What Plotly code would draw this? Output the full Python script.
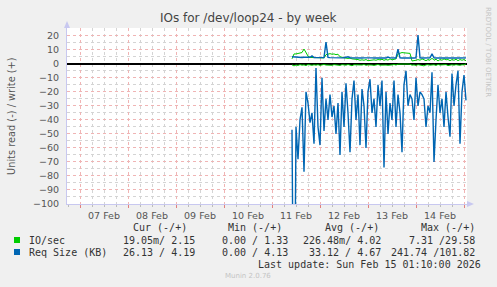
import pandas as pd
import plotly.graph_objects as go

# ---------------- data ----------------
start_time = "2026-02-11 10:00"
n_points = 88

io_write = [3.5, 7.0, 7.0, 7.2, 7.5, 8.0, 10.5, 8.0, 5.5, 4.5, 4.5, 4.0, 4.2, 4.0, 4.5, 4.0,
            4.2, 6.5, 7.0, 7.2, 6.8, 7.0, 6.5, 6.8, 5.0, 4.5, 4.2, 4.0, 3.8, 4.0, 3.5, 3.5,
            3.2, 3.0, 2.5, 2.8, 2.5, 3.0, 2.2, 2.5, 3.0, 2.8, 2.5, 3.0, 2.8, 3.2, 2.5, 3.0,
            2.6, 3.5, 2.8, 3.0, 3.5, 7.0, 7.8, 8.0, 7.8, 7.5, 7.6, 7.4, 2.0, 2.0, 2.5, 3.0,
            2.5, 3.5, 2.8, 2.2, 3.0, 2.5, 4.0, 2.5, 3.2, 2.0, 3.0, 2.5, 3.5, 2.8, 3.0, 2.2,
            3.0, 2.5, 3.2, 2.2, 3.0, 2.5, 3.0, 2.15]

io_read = [0.8, 1.5, 0.9, 1.2, 0.6, 1.0, 0.8, 1.3, 0.5, 0.9, 1.1, 0.7, 1.0, 0.6, 1.2, 0.8,
           0.5, 0.9, 1.0, 0.7, 1.1, 0.6, 0.9, 0.8, 1.2, 0.6, 0.8, 1.0, 0.5, 0.9, 1.4, 0.7,
           0.8, 0.6, 1.0, 0.9, 0.5, 1.1, 0.8, 0.6, 0.9, 1.2, 0.7, 0.5, 1.0, 0.8, 0.6, 0.9,
           1.1, 0.7, 0.8, 0.5, 0.9, 0.3, 0.2, 0.3, 0.2, 0.3, 0.2, 0.3, 1.0, 0.8, 1.2, 0.6,
           0.9, 0.7, 1.5, 0.8, 0.6, 1.0, 0.9, 0.7, 1.2, 0.5, 0.9, 0.8, 1.0, 0.6, 1.3, 0.8,
           0.7, 1.0, 0.6, 0.9, 1.1, 0.7, 0.8, 0.02]

req_write = [5.0, 4.8, 4.8, 4.6, 4.5, 4.5, 4.6, 4.5, 4.4, 4.6, 5.6, 4.5, 4.4, 4.5, 4.4, 4.5,
             4.5, 15.5, 4.5, 4.4, 4.3, 4.4, 4.3, 4.2, 4.3, 4.2, 4.3, 4.4, 5.0, 4.3, 4.2, 4.3,
             4.2, 4.1, 4.2, 4.1, 4.2, 4.3, 4.2, 4.1, 4.2, 4.1, 4.2, 4.1, 4.2, 4.1, 4.2, 4.1,
             4.8, 4.2, 4.1, 4.2, 4.1, 10.5, 4.2, 4.1, 4.2, 4.1, 4.2, 4.1, 4.2, 4.1, 4.2, 20.5,
             4.2, 4.1, 4.2, 4.1, 4.2, 4.3, 7.0, 4.2, 4.1, 4.2, 4.1, 4.2, 4.1, 4.2, 4.1, 4.2,
             4.1, 4.2, 4.1, 4.2, 4.1, 4.2, 4.2, 4.19]

req_read = [47, 241.74, 45, 68, 40, 31, 77, 20, 28, 42, 35, 57, 3, 45, 58, 10,
            48, 25, 40, 22, 38, 30, 50, 28, 65, 20, 45, 14, 35, 63, 25, 12,
            40, 22, 58, 18, 30, 60, 20, 11, 35, 25, 45, 15, 30, 12, 74, 20,
            50, 28, 40, 12, 45, 22, 35, 63, 15, 5, 30, 22, 25, 40, 10, 30,
            20, 22, 25, 45, 30, 35, 6, 70, 40, 15, 35, 25, 45, 20, 38, 52,
            7, 30, 15, 5, 57, 20, 8, 26.13]

y_tick_values = list(range(-100, 21, 10))

title_text = "IOs for /dev/loop24 - by week"
y_title = "Units read (-) / write (+)"
legend_header = ["Cur (-/+)", "Min (-/+)", "Avg (-/+)", "Max (-/+)"]
legend_names = ["IO/sec", "Req Size (KB)"]
legend_rows = [
    ["19.05m/ 2.15", "0.00 / 1.33", "226.48m/ 4.02", "7.31 /29.58"],
    ["26.13 / 4.19", "0.00 / 4.13", "33.12 / 4.67", "241.74 /101.82"],
]
last_update = "Last update: Sun Feb 15 01:10:00 2026"
munin_version = "Munin 2.0.76"
rrd_credit = "RRDTOOL / TOBI OETIKER"

GREEN = "#00CC00"
BLUE = "#0066B3"

times = pd.date_range(start_time, periods=n_points, freq="h")

# ---------------- geometry helpers ----------------
W, H = 497, 287
L, R, T, B = 67, 467, 28, 204


def px(x):
    return (x - L) / (R - L)


def py(y):
    return (B - y) / (B - T)


fig = go.Figure()

fig.add_trace(go.Scatter(x=times, y=[-v for v in io_read], mode="lines",
                         line=dict(color=GREEN, width=1), showlegend=False))
fig.add_trace(go.Scatter(x=times, y=io_write, mode="lines",
                         line=dict(color=GREEN, width=1), showlegend=False))
fig.add_trace(go.Scatter(x=times, y=[-v for v in req_read], mode="lines",
                         line=dict(color=BLUE, width=1.4), showlegend=False))
fig.add_trace(go.Scatter(x=times, y=req_write, mode="lines",
                         line=dict(color=BLUE, width=1.4), showlegend=False))

AXIS_COL = "#C8C8F0"
MAJOR = "#F0B4B4"
MINOR = "#D4D4D4"
TICKFONT = dict(family="DejaVu Sans", size=9.5, color="#555555")

fig.update_xaxes(
    type="date",
    range=["2026-02-06 17:30", "2026-02-15 01:30"],
    dtick=86400000,
    tick0="2026-02-07 00:00",
    tickformat="%d %b",
    ticklabelmode="period",
    showgrid=True, gridcolor=MAJOR, griddash="dot", gridwidth=1,
    ticks="outside", ticklen=3, tickcolor="#E08080",
    minor=dict(dtick=6 * 3600000, showgrid=True, gridcolor=MINOR, griddash="dot",
               ticks="outside", ticklen=2, tickcolor="#BBBBBB"),
    showline=True, linecolor=AXIS_COL, linewidth=1,
    zeroline=False,
    tickfont=TICKFONT,
    fixedrange=True,
)
fig.update_yaxes(
    range=[-100, 25.5],
    tickvals=y_tick_values,
    showgrid=True, gridcolor=MAJOR, griddash="dot", gridwidth=1,
    minor=dict(dtick=5, showgrid=True, gridcolor=MINOR, griddash="dot"),
    ticks="outside", ticklen=5, tickcolor="rgba(0,0,0,0)",
    showline=True, linecolor=AXIS_COL, linewidth=1,
    zeroline=True, zerolinecolor="#000000", zerolinewidth=1.5,
    tickfont=TICKFONT,
    fixedrange=True,
)

ann = []


def add_text(x, y, text, font, xanchor="center", angle=0):
    ann.append(dict(xref="paper", yref="paper", x=px(x), y=py(y), text=text,
                    showarrow=False, font=font, xanchor=xanchor, yanchor="middle",
                    textangle=angle))


add_text(248, 18, title_text, dict(family="DejaVu Sans", size=12, color="#444444"))
add_text(11, 116, y_title, dict(family="DejaVu Sans", size=9.8, color="#555555"), angle=-90)
add_text(488, 52, rrd_credit, dict(family="DejaVu Sans", size=7, color="#C4C4C4"), angle=90)
add_text(248, 276, munin_version, dict(family="DejaVu Sans", size=7, color="#C4C4C4"))

MONO = dict(family="DejaVu Sans Mono", size=10, color="#333333")
header_ends = [189, 284, 381, 477]
col_ends = [197, 290, 383, 477]
for txt, xe in zip(legend_header, header_ends):
    add_text(xe, 227, txt.replace(" ", "&nbsp;"), MONO, xanchor="right")
row_y = [240, 252]
for name, cells, yy in zip(legend_names, legend_rows, row_y):
    add_text(27, yy, name.replace(" ", "&nbsp;"), MONO, xanchor="left")
    for txt, xe in zip(cells, col_ends):
        add_text(xe, yy, txt.replace(" ", "&nbsp;"), MONO, xanchor="right")
add_text(483, 264, last_update.replace(" ", "&nbsp;"), MONO, xanchor="right")

shapes = []
for col, yy in zip([GREEN, BLUE], row_y):
    shapes.append(dict(type="rect", xref="paper", yref="paper",
                       x0=px(14), x1=px(20), y0=py(yy + 3), y1=py(yy - 3),
                       fillcolor=col, line=dict(width=0)))
# axis arrows
shapes.append(dict(type="path", xref="paper", yref="paper",
                   path=f"M {px(64)} {py(28)} L {px(70)} {py(28)} L {px(67)} {py(21)} Z",
                   fillcolor=AXIS_COL, line=dict(width=0)))
shapes.append(dict(type="path", xref="paper", yref="paper",
                   path=f"M {px(467)} {py(201)} L {px(467)} {py(207)} L {px(474)} {py(204)} Z",
                   fillcolor=AXIS_COL, line=dict(width=0)))

fig.update_layout(
    width=W, height=H,
    margin=dict(l=L, r=W - R, t=T, b=H - B, pad=0),
    paper_bgcolor="#F0F0F0",
    plot_bgcolor="#FFFFFF",
    showlegend=False,
    annotations=ann,
    shapes=shapes,
)

fig.write_html("out.html", config={"displayModeBar": False})
